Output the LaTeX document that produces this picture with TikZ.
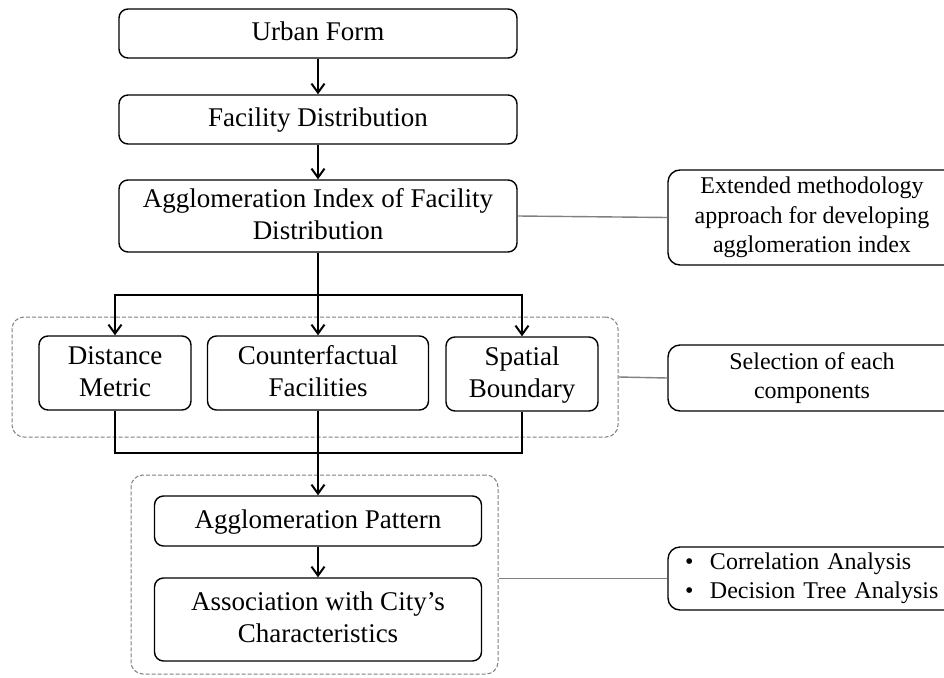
\documentclass[tikz,border=0pt]{standalone}
\usepackage{fontspec}
\setmainfont{Liberation Serif}
\usetikzlibrary{arrows.meta}

\newcommand{\mainfs}{\fontsize{27}{32}\selectfont}
\newcommand{\sidefs}{\fontsize{24}{29.5}\selectfont}
% fixed line height so that boxes with and without descenders sit alike
\newcommand{\ms}{\rule[-6pt]{0pt}{26pt}}
\newcommand{\bul}{\makebox[25pt][l]{\textbullet}}

\tikzset{
  mainbox/.style={draw, rounded corners=9pt, line width=1.4pt, font=\mainfs,
                  align=center, inner sep=0pt},
  sidebox/.style={draw, rounded corners=12pt, line width=1.4pt, font=\sidefs,
                  align=center, inner sep=0pt},
  groupbox/.style={draw=black!50, dash pattern=on 4pt off 2pt,
                   rounded corners=12pt, line width=1pt, inner sep=0pt},
  flow/.style={line width=2pt, -{Straight Barb[length=9pt,width=13pt,line width=2pt]}},
  plain/.style={line width=2pt},
  link/.style={draw=black!50, line width=1.4pt},
}

\begin{document}
\begin{tikzpicture}[x=1pt, y=-1pt]
  \useasboundingbox (0,0) rectangle (944,677);
  \clip (0,0) rectangle (944,677);

  % dashed groups
  \node[groupbox, minimum width=606pt, minimum height=120pt] (g1) at (315,377) {};
  \node[groupbox, minimum width=367pt, minimum height=199pt] (g2) at (314.5,574.5) {};

  % main chain
  \node[mainbox, minimum width=398pt, minimum height=49pt] (uf) at (318,33.5) {\ms Urban Form};
  \node[mainbox, minimum width=398pt, minimum height=49pt] (fd) at (318,119.5) {\ms Facility Distribution};
  \node[mainbox, minimum width=398pt, minimum height=72pt] (ai) at (318,216)
       {\ms Agglomeration Index of Facility\\\ms Distribution};

  % components
  \node[mainbox, minimum width=152pt, minimum height=74pt] (dm) at (115,373) {\ms Distance\\\ms Metric};
  \node[mainbox, minimum width=221pt, minimum height=74pt] (cf) at (318,373) {\ms Counterfactual\\\ms Facilities};
  \node[mainbox, minimum width=152pt, minimum height=74pt] (sb) at (522,374) {\ms Spatial\\\ms Boundary};

  % results
  \node[mainbox, minimum width=327pt, minimum height=50pt] (ap) at (318,521) {\ms Agglomeration Pattern};
  \node[mainbox, minimum width=327pt, minimum height=83pt] (as) at (318,619.5)
       {\ms Association with City’s\\\ms Characteristics};

  % side notes
  \node[sidebox, minimum width=288pt, minimum height=95pt] (ext) at (812,217.5)
       {Extended methodology\\approach for developing\\agglomeration index};
  \node[sidebox, minimum width=288pt, minimum height=66pt] (sel) at (812,378)
       {Selection of each\\components};
  \node[sidebox, minimum height=63pt, align=left,
        text width=262pt, inner xsep=17pt] (cor) at (816,578.5)
       {\bul Correlation Analysis\\\bul Decision Tree Analysis};

  % split and merge points
  \coordinate (split) at (318,295);
  \coordinate (merge) at (318,453);

  % connectors
  \draw[flow] (uf) -- (fd);
  \draw[flow] (fd) -- (ai);
  \draw[plain] (ai.south) -- (split);
  \draw[flow] (split) -| (dm.north);
  \draw[flow] (split) -- (cf.north);
  \draw[flow] (split) -| (sb.north);
  \draw[plain] (dm.south) |- (merge);
  \draw[plain] (sb.south) |- (merge);
  \draw[flow] (cf.south) -- (ap.north);
  \draw[flow] (ap) -- (as);

  % links to notes
  \draw[link] (ai.east) -- (ext.west);
  \draw[link] (g1.east) -- (sel.west);
  \draw[link] (g2.east |- cor.west) -- (cor.west);
\end{tikzpicture}
\end{document}
